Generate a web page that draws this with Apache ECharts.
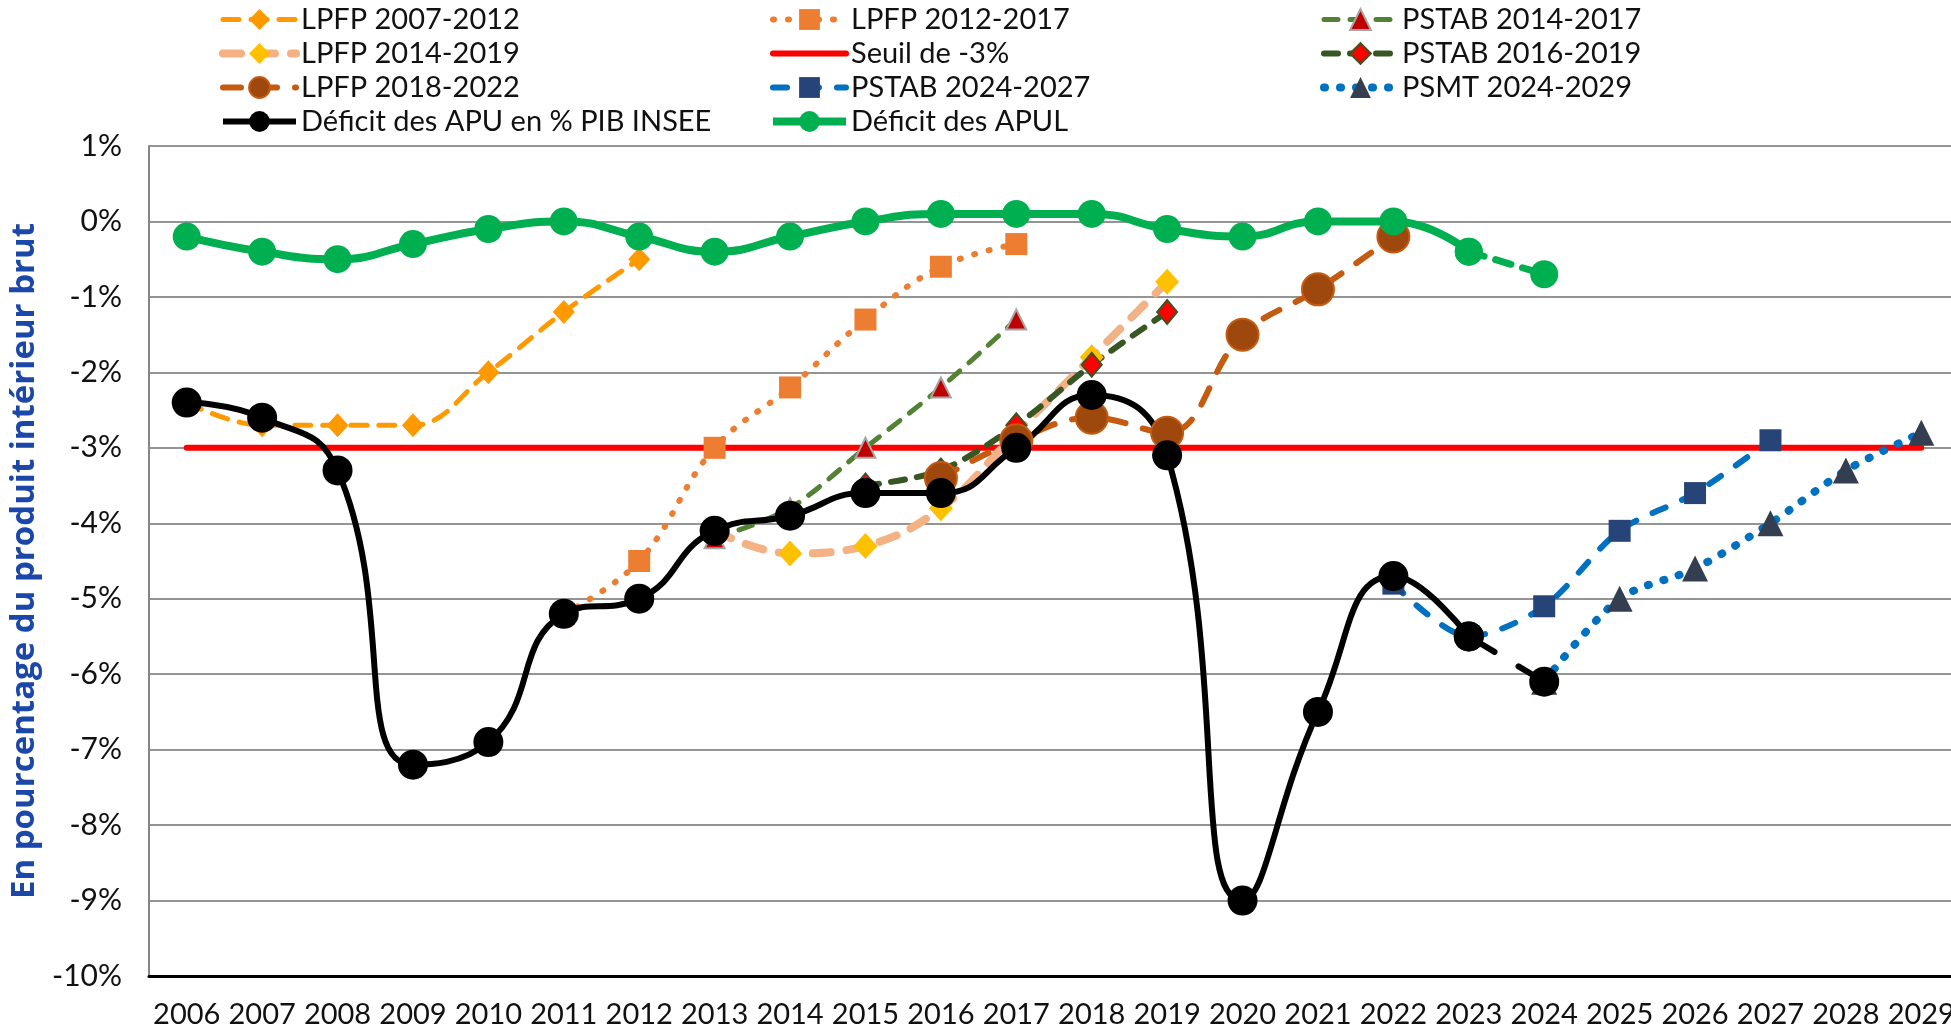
<!DOCTYPE html>
<html>
<head>
<meta charset="utf-8">
<title>Déficit public</title>
<script src="https://cdn.jsdelivr.net/npm/echarts@6/dist/echarts.min.js"></script>
<style>
  html, body { margin: 0; padding: 0; background: #fff; }
  #chart { width: 1951px; height: 1026px; }
</style>
</head>
<body>
<div id="chart"></div>
<script>
// years on the x axis
const years = ["2006","2007","2008","2009","2010","2011","2012","2013","2014","2015","2016","2017",
  "2018","2019","2020","2021","2022","2023","2024","2025","2026","2027","2028","2029"];

// in % of GDP (null = no point)
const apu = [-2.4,-2.6,-3.3,-7.2,-6.9,-5.2,-5.0,-4.1,-3.9,-3.6,-3.6,-3.0,-2.3,-3.1,-9.0,-6.5,-4.7,-5.5,-6.1];
const apul = [-0.2,-0.4,-0.5,-0.3,-0.1,0.0,-0.2,-0.4,-0.2,0.0,0.1,0.1,0.1,-0.1,-0.2,0.0,0.0,-0.4,-0.7];
const lpfp0712 = [-2.4,-2.7,-2.7,-2.7,-2.0,-1.2,-0.5];
const lpfp1217 = [null,null,null,null,null,-5.2,-4.5,-3.0,-2.2,-1.3,-0.6,-0.3];
const pstab1417 = [null,null,null,null,null,null,null,-4.2,-3.8,-3.0,-2.2,-1.3];
const lpfp1419 = [null,null,null,null,null,null,null,-4.1,-4.4,-4.3,-3.8,-2.8,-1.8,-0.8];
const pstab1619 = [null,null,null,null,null,null,null,null,null,-3.5,-3.3,-2.7,-1.9,-1.2];
const lpfp1822 = [null,null,null,null,null,null,null,null,null,null,-3.4,-2.9,-2.6,-2.8,-1.5,-0.9,-0.2];
const pstab2427 = [null,null,null,null,null,null,null,null,null,null,null,null,null,null,null,null,-4.8,-5.5,-5.1,-4.1,-3.6,-2.9];
const psmt2429 = [null,null,null,null,null,null,null,null,null,null,null,null,null,null,null,null,null,null,-6.1,-5.0,-4.6,-4.0,-3.3,-2.8];
const seuil = years.map(() => -3);

// last actual year is drawn dashed for 2023 -> 2024
const lastSolid = 17;
const solidPart = (arr) => arr.map((v, i) => (i <= lastSolid ? v : null));
const dashPart = (arr) => arr.map((v, i) => (i >= lastSolid ? v : null));

const font = "Lato";

const chart = echarts.init(document.getElementById("chart"));

function legendCol(left, names) {
  return {
    orient: "vertical",
    left: left,
    top: 0,
    itemWidth: 73,
    itemHeight: 26,
    itemGap: 5,
    lineStyle: { width: "inherit" },
    textStyle: { fontFamily: font, fontSize: 29, color: "#111", lineHeight: 24 },
    data: names,
  };
}

chart.setOption({
  animation: false,
  backgroundColor: "#fff",
  legend: [
    legendCol(214, ["LPFP 2007-2012", "LPFP 2014-2019", "LPFP 2018-2022", "Déficit des APU en % PIB INSEE"]),
    legendCol(764, ["LPFP 2012-2017", { name: "Seuil de -3%", itemStyle: { opacity: 0 } }, "PSTAB 2024-2027", "Déficit des APUL"]),
    legendCol(1315, ["PSTAB 2014-2017", "PSTAB 2016-2019", "PSMT 2024-2029"]),
  ],
  grid: { left: 149, right: -8, top: 146, bottom: 50, outerBoundsMode: "none" },
  xAxis: {
    type: "category",
    data: years,
    boundaryGap: true,
    axisLine: { onZero: false, lineStyle: { color: "#000", width: 3 } },
    axisTick: { show: false },
    axisLabel: { interval: 0, margin: 24, fontFamily: font, fontSize: 29, color: "#111" },
  },
  yAxis: {
    type: "value",
    min: -10,
    max: 1,
    interval: 1,
    name: "En pourcentage du produit intérieur brut",
    nameLocation: "middle",
    nameGap: 104,
    nameTextStyle: { fontFamily: "Open Sans", fontSize: 33, fontWeight: "bold", color: "#1a47a8" },
    axisLine: { show: true, lineStyle: { color: "#868686", width: 2 } },
    axisTick: { show: false },
    axisLabel: { margin: 27, fontFamily: font, fontSize: 30, color: "#111", formatter: "{value}%" },
    splitLine: { lineStyle: { color: "#949494", width: 2 } },
  },
  series: [
    {
      name: "Seuil de -3%", type: "line", data: seuil, symbol: "none",
      lineStyle: { color: "#ff0000", width: 6, cap: "round" }, itemStyle: { color: "#ff0000" },
    },
    {
      name: "LPFP 2007-2012", type: "line", data: lpfp0712, smooth: 0.4,
      symbol: "diamond", symbolSize: [22, 24],
      lineStyle: { color: "#ff9900", width: 5, type: [16, 12], cap: "round" },
      itemStyle: { color: "#ff9900" },
    },
    {
      name: "LPFP 2012-2017", type: "line", data: lpfp1217, smooth: 0.4,
      symbol: "rect", symbolSize: 22,
      lineStyle: { color: "#ed7d31", width: 6, type: [1, 14], cap: "round" },
      itemStyle: { color: "#ed7d31" },
    },
    {
      name: "PSTAB 2014-2017", type: "line", data: pstab1417, smooth: 0.3,
      symbol: "triangle", symbolSize: [20, 20],
      lineStyle: { color: "#548235", width: 5, type: [14, 12], cap: "round" },
      itemStyle: { color: "#c00000", borderColor: "#a5a5a5", borderWidth: 2 },
    },
    {
      name: "LPFP 2014-2019", type: "line", data: lpfp1419, smooth: 0.4,
      symbol: "diamond", symbolSize: [24, 26],
      lineStyle: { color: "#f4b183", width: 8, type: [18, 16], cap: "round" },
      itemStyle: { color: "#ffc000" },
    },
    {
      name: "PSTAB 2016-2019", type: "line", data: pstab1619, smooth: 0.3,
      symbol: "diamond", symbolSize: [20, 24],
      lineStyle: { color: "#375623", width: 6, type: [14, 12], cap: "round" },
      itemStyle: { color: "#ff0000", borderColor: "#375623", borderWidth: 2 },
    },
    {
      name: "LPFP 2018-2022", type: "line", data: lpfp1822, smooth: 0.4,
      symbol: "circle", symbolSize: 32,
      lineStyle: { color: "#c55a11", width: 6, type: [18, 18], cap: "round" },
      itemStyle: { color: "#9e480e", borderColor: "#c55a11", borderWidth: 2 },
    },
    {
      name: "PSTAB 2024-2027", type: "line", data: pstab2427, smooth: 0.3,
      symbol: "rect", symbolSize: 22,
      lineStyle: { color: "#0070c0", width: 6, type: [14, 18], cap: "round" },
      itemStyle: { color: "#264478" },
    },
    {
      name: "PSMT 2024-2029", type: "line", data: psmt2429, smooth: 0.3,
      symbol: "triangle", symbolSize: [26, 26],
      lineStyle: { color: "#0070c0", width: 8, type: [1, 15], cap: "round" },
      itemStyle: { color: "#333f50" },
    },
    {
      name: "Déficit des APU en % PIB INSEE", type: "line", data: solidPart(apu), smooth: 0.5,
      symbol: "circle", symbolSize: 30,
      lineStyle: { color: "#000", width: 6 }, itemStyle: { color: "#000" },
    },
    {
      name: "Déficit des APU en % PIB INSEE", type: "line", data: dashPart(apu),
      symbol: "circle", symbolSize: 30,
      lineStyle: { color: "#000", width: 6, type: [30, 28], cap: "round" }, itemStyle: { color: "#000" },
    },
    {
      name: "Déficit des APUL", type: "line", data: solidPart(apul), smooth: 0.5,
      symbol: "circle", symbolSize: 28,
      lineStyle: { color: "#00b050", width: 8 }, itemStyle: { color: "#00b050" },
    },
    {
      name: "Déficit des APUL", type: "line", data: dashPart(apul),
      symbol: "circle", symbolSize: 28,
      lineStyle: { color: "#00b050", width: 7, type: [16, 12], cap: "round" }, itemStyle: { color: "#00b050" },
    },
  ],
});
</script>
</body>
</html>
